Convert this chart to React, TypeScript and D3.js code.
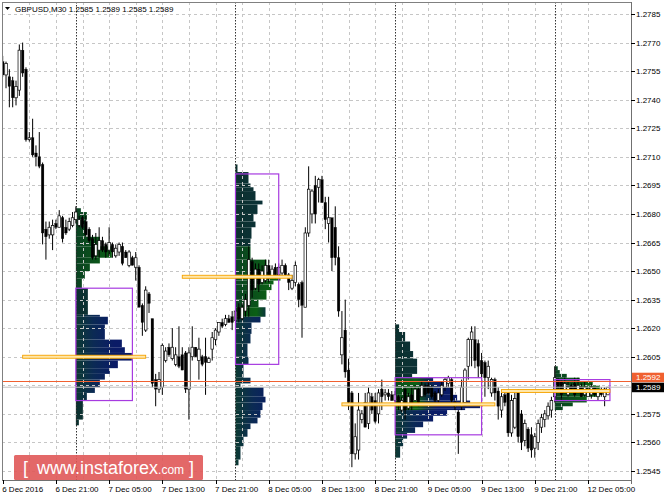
import * as d3 from "d3";

// GBPUSD M30, 6 Dec 2016 13:00 .. 12 Dec 2016 08:00
const symbol = "GBPUSD,M30";
const lastQuote = [1.2585, 1.2589, 1.2585, 1.2589];
const bid = 1.2589;
const ask = 1.2592;

// [open, high, low, close] per 30 min bar
const candles: number[][] = [
  [1.276, 1.2763, 1.2752, 1.2753], [1.2753, 1.276, 1.2746, 1.2759], [1.2752, 1.2756, 1.2736, 1.2747], [1.275, 1.2752, 1.2736, 1.2741],
  [1.2741, 1.275, 1.2737, 1.2747], [1.2745, 1.2769, 1.2742, 1.2766], [1.2766, 1.277, 1.2752, 1.2754], [1.2756, 1.2757, 1.2718, 1.2719],
  [1.2719, 1.2723, 1.2718, 1.272], [1.272, 1.273, 1.271, 1.2711], [1.2712, 1.2716, 1.2705, 1.271], [1.271, 1.2723, 1.2704, 1.2705],
  [1.2706, 1.2707, 1.2664, 1.267], [1.2672, 1.2676, 1.2656, 1.2668], [1.2669, 1.2676, 1.2667, 1.2673], [1.2669, 1.2677, 1.2661, 1.2674],
  [1.2675, 1.2677, 1.2672, 1.2673], [1.2673, 1.2682, 1.2673, 1.2679], [1.2678, 1.2679, 1.2665, 1.2667], [1.2673, 1.2677, 1.2669, 1.267],
  [1.2672, 1.2678, 1.2671, 1.2676], [1.2674, 1.2681, 1.2673, 1.2678],
  // 7 Dec
  [1.2677, 1.2684, 1.2675, 1.2681], [1.2674, 1.2679, 1.2673, 1.2677], [1.2678, 1.2679, 1.2672, 1.2673], [1.2676, 1.2679, 1.2668, 1.2669],
  [1.2672, 1.2673, 1.2665, 1.2666], [1.2667, 1.2669, 1.2656, 1.2657], [1.2658, 1.267, 1.2656, 1.2664], [1.2661, 1.2673, 1.2657, 1.2666],
  [1.2666, 1.2668, 1.266, 1.2661], [1.2664, 1.2665, 1.2657, 1.266], [1.2661, 1.2673, 1.2658, 1.2665], [1.2664, 1.2665, 1.2657, 1.266],
  [1.2658, 1.2664, 1.2657, 1.2662], [1.266, 1.2665, 1.2658, 1.2664], [1.2663, 1.2665, 1.2653, 1.2654], [1.266, 1.2661, 1.2657, 1.2657],
  [1.2653, 1.2661, 1.2652, 1.266], [1.2657, 1.2658, 1.2653, 1.2653], [1.2652, 1.266, 1.2645, 1.2657], [1.2652, 1.2653, 1.2631, 1.2631],
  [1.2632, 1.2633, 1.2616, 1.2623], [1.2619, 1.2642, 1.2618, 1.264], [1.2638, 1.2639, 1.2628, 1.2633], [1.2625, 1.2625, 1.2589, 1.2591],
  [1.2593, 1.2596, 1.2579, 1.2588], [1.2588, 1.2597, 1.2586, 1.2593], [1.2589, 1.2612, 1.2585, 1.2611], [1.2603, 1.261, 1.2602, 1.2608],
  [1.261, 1.2612, 1.2605, 1.2606], [1.2604, 1.262, 1.2603, 1.261], [1.2601, 1.261, 1.26, 1.2606], [1.2605, 1.2621, 1.2599, 1.26],
  [1.2606, 1.261, 1.2598, 1.2598], [1.2607, 1.2608, 1.2586, 1.2588], [1.2588, 1.261, 1.2572, 1.2607], [1.2605, 1.2621, 1.2603, 1.261],
  [1.261, 1.261, 1.2605, 1.2605], [1.2603, 1.2615, 1.2593, 1.2609], [1.2605, 1.2606, 1.26, 1.2601], [1.2605, 1.2615, 1.2585, 1.2602],
  [1.2602, 1.2605, 1.2602, 1.2604], [1.2609, 1.2618, 1.2603, 1.2615], [1.2614, 1.262, 1.2611, 1.2619], [1.2618, 1.2623, 1.2616, 1.2623],
  [1.2623, 1.2625, 1.262, 1.2621], [1.2622, 1.2627, 1.2621, 1.2625], [1.2625, 1.2627, 1.2623, 1.2623], [1.2626, 1.2629, 1.2619, 1.2623],
  // 8 Dec
  [1.2624, 1.2632, 1.2623, 1.2629], [1.2631, 1.2633, 1.2623, 1.2625], [1.2625, 1.2633, 1.2624, 1.2631], [1.2629, 1.2638, 1.2626, 1.2635],
  [1.2632, 1.2663, 1.2626, 1.2656], [1.2655, 1.2657, 1.2636, 1.264], [1.2641, 1.2654, 1.264, 1.2651], [1.2651, 1.2654, 1.2639, 1.2643],
  [1.2644, 1.2653, 1.2643, 1.265], [1.2645, 1.2656, 1.2644, 1.2653], [1.2653, 1.2656, 1.2644, 1.2646], [1.2647, 1.2653, 1.2646, 1.2651],
  [1.2652, 1.2654, 1.2646, 1.2648], [1.2648, 1.2654, 1.2647, 1.2652], [1.2649, 1.2656, 1.2647, 1.2653], [1.2653, 1.2654, 1.2647, 1.2648],
  [1.2648, 1.2649, 1.264, 1.2644], [1.2641, 1.2648, 1.264, 1.2645], [1.2644, 1.2655, 1.2642, 1.2653], [1.2643, 1.2644, 1.2631, 1.2635],
  [1.2644, 1.2645, 1.2615, 1.2632], [1.2631, 1.2673, 1.2631, 1.267], [1.267, 1.2705, 1.2668, 1.2693], [1.268, 1.2693, 1.2675, 1.2692],
  [1.2695, 1.27, 1.2675, 1.268], [1.2694, 1.2699, 1.2686, 1.2698], [1.2698, 1.27, 1.2686, 1.2686], [1.2686, 1.2689, 1.2672, 1.2677],
  [1.2675, 1.2689, 1.2665, 1.2678], [1.2678, 1.2678, 1.265, 1.2657], [1.2673, 1.2684, 1.2653, 1.2657], [1.2657, 1.2663, 1.2626, 1.2629],
  [1.2606, 1.2629, 1.2601, 1.2615], [1.2619, 1.2635, 1.2594, 1.2597], [1.2598, 1.2604, 1.2577, 1.2581], [1.2586, 1.2587, 1.2547, 1.2554],
  [1.2554, 1.257, 1.2551, 1.2563], [1.2556, 1.2586, 1.2551, 1.2577], [1.2572, 1.2577, 1.257, 1.2575], [1.2581, 1.2586, 1.2568, 1.2568],
  [1.257, 1.2589, 1.2567, 1.2586], [1.2584, 1.2586, 1.2575, 1.2577], [1.2582, 1.2586, 1.257, 1.2571], [1.2575, 1.2588, 1.257, 1.2586],
  [1.2588, 1.2593, 1.2577, 1.2584], [1.2585, 1.2588, 1.2582, 1.2586], [1.2586, 1.2588, 1.2582, 1.2584], [1.2585, 1.2587, 1.2582, 1.2582],
  // 9 Dec
  [1.2582, 1.2587, 1.2581, 1.2585], [1.2584, 1.2585, 1.2577, 1.258], [1.2577, 1.2584, 1.2576, 1.2582], [1.2588, 1.2589, 1.2572, 1.2577],
  [1.2578, 1.2586, 1.2577, 1.2584], [1.2585, 1.2589, 1.2577, 1.258], [1.2582, 1.259, 1.2582, 1.2588], [1.2588, 1.2589, 1.2579, 1.2581],
  [1.2584, 1.2592, 1.2584, 1.259], [1.259, 1.2591, 1.2584, 1.2585], [1.259, 1.2592, 1.2585, 1.2586], [1.2589, 1.259, 1.2583, 1.2584],
  [1.2586, 1.2587, 1.2581, 1.2582], [1.2582, 1.2588, 1.2581, 1.2586], [1.2585, 1.2592, 1.2584, 1.259], [1.2589, 1.2594, 1.2587, 1.2593],
  [1.2591, 1.2595, 1.2589, 1.2594], [1.2593, 1.2594, 1.2581, 1.2582], [1.2581, 1.2582, 1.2577, 1.2579], [1.2576, 1.2577, 1.2554, 1.2565],
  [1.2579, 1.2593, 1.2577, 1.2589], [1.2581, 1.2599, 1.2579, 1.2598], [1.26, 1.2615, 1.2593, 1.2614], [1.2614, 1.2621, 1.26, 1.2618],
  [1.2614, 1.2621, 1.2599, 1.2603], [1.2612, 1.2614, 1.2594, 1.26], [1.2603, 1.2607, 1.2589, 1.2596], [1.2602, 1.2603, 1.2584, 1.2594],
  [1.2594, 1.2603, 1.2588, 1.26], [1.2586, 1.2594, 1.2584, 1.2593], [1.2593, 1.2594, 1.2582, 1.2586], [1.2587, 1.2589, 1.2572, 1.2579],
  [1.2577, 1.2586, 1.2573, 1.2584], [1.2585, 1.2587, 1.2579, 1.2581], [1.2586, 1.2588, 1.2563, 1.2565], [1.2565, 1.2585, 1.2563, 1.2582],
  [1.2568, 1.2586, 1.2567, 1.2583], [1.2586, 1.2588, 1.256, 1.2563], [1.2575, 1.2577, 1.2556, 1.256], [1.2561, 1.2572, 1.2558, 1.257],
  [1.2567, 1.2568, 1.2555, 1.2557], [1.2564, 1.2568, 1.2552, 1.2556], [1.2557, 1.2565, 1.2552, 1.2563], [1.256, 1.2572, 1.2556, 1.257],
  [1.2568, 1.2575, 1.2565, 1.2573], [1.2572, 1.2577, 1.2568, 1.2575], [1.2574, 1.2581, 1.2572, 1.2579], [1.2577, 1.2584, 1.2573, 1.2582],
  // 12 Dec
  [1.2584, 1.26, 1.2581, 1.2594], [1.2593, 1.2594, 1.2586, 1.2589], [1.2592, 1.2593, 1.2582, 1.2585], [1.2586, 1.2594, 1.2586, 1.2591],
  [1.2585, 1.2592, 1.2584, 1.2589], [1.259, 1.2591, 1.2587, 1.2588], [1.2591, 1.2594, 1.2584, 1.2585], [1.2586, 1.2594, 1.2586, 1.259],
  [1.2589, 1.2591, 1.2584, 1.2584], [1.2585, 1.2592, 1.2584, 1.2589], [1.2584, 1.2589, 1.2584, 1.2588], [1.2585, 1.2591, 1.2583, 1.2589],
  [1.2589, 1.2589, 1.2584, 1.2585], [1.2584, 1.2588, 1.2582, 1.2587], [1.2588, 1.2589, 1.2584, 1.2585], [1.2584, 1.2589, 1.2579, 1.2588],
  lastQuote,
];

// bar index where each trading day starts
const dayStarts = [22, 70, 118, 166];

// market profile rows per day: [high, low, TPO width, colour group]
const profile7Dec: [number, number, number, string][] = [
  [1.2683, 1.2681, 5, "g"], [1.2681, 1.2677, 11, "g"], [1.2677, 1.2668, 10, "g"], [1.2668, 1.2663, 24, "g"],
  [1.2663, 1.2657, 36, "g"], [1.2657, 1.2654, 24, "g"], [1.2654, 1.265, 14, "g"], [1.265, 1.2646, 9, "g"],
  [1.2646, 1.2641, 6, "g"], [1.2641, 1.2627, 12, "t"], [1.2627, 1.2626, 24, "b"], [1.2626, 1.2622, 32, "b"],
  [1.2622, 1.2614, 29, "b"], [1.2614, 1.261, 46, "b"], [1.261, 1.2607, 49, "b"], [1.2607, 1.2603, 56, "b"],
  [1.2603, 1.2599, 42, "b"], [1.2599, 1.2596, 34, "b"], [1.2596, 1.2593, 29, "b"], [1.2593, 1.2589, 24, "b"],
  [1.2589, 1.2586, 19, "b"], [1.2586, 1.2582, 11, "b"], [1.2582, 1.2572, 7, "t"], [1.2572, 1.2569, 3, "t"],
];
const profile8Dec: [number, number, number, string][] = [
  [1.2706, 1.2702, 2, "t"], [1.2702, 1.2696, 13, "t"], [1.2696, 1.2694, 15, "t"], [1.2694, 1.2692, 18, "t"],
  [1.2692, 1.2687, 20, "t"], [1.2687, 1.2685, 27, "t"], [1.2685, 1.268, 22, "t"], [1.268, 1.2676, 18, "t"],
  [1.2676, 1.2673, 20, "t"], [1.2673, 1.2667, 16, "t"], [1.2667, 1.2663, 15, "t"], [1.2663, 1.2656, 15, "g"],
  [1.2656, 1.265, 31, "g"], [1.265, 1.2648, 38, "g"], [1.2648, 1.2645, 45, "g"], [1.2645, 1.2643, 38, "g"],
  [1.2643, 1.264, 36, "g"], [1.264, 1.2635, 31, "g"], [1.2635, 1.2631, 23, "g"], [1.2631, 1.2626, 30, "m"],
  [1.2626, 1.2623, 25, "b"], [1.2623, 1.2617, 16, "b"], [1.2617, 1.2612, 15, "b"], [1.2612, 1.2605, 12, "b"],
  [1.2605, 1.2601, 13, "b"], [1.2601, 1.2594, 8, "b"], [1.2594, 1.2591, 15, "b"], [1.2591, 1.2589, 5, "b"],
  [1.2589, 1.2584, 28, "b"], [1.2584, 1.2581, 30, "b"], [1.2581, 1.2577, 27, "b"], [1.2577, 1.2573, 25, "b"],
  [1.2573, 1.257, 22, "b"], [1.257, 1.2567, 15, "b"], [1.2567, 1.2563, 12, "b"], [1.2563, 1.2558, 8, "b"],
  [1.2558, 1.2551, 5, "b"], [1.2551, 1.2548, 3, "b"],
];
const profile9Dec: [number, number, number, string][] = [
  [1.2622, 1.2618, 4, "t"], [1.2618, 1.2613, 10, "t"], [1.2613, 1.2608, 15, "t"], [1.2608, 1.2604, 18, "t"],
  [1.2604, 1.26, 22, "t"], [1.26, 1.2596, 22, "t"], [1.2596, 1.2594, 17, "t"], [1.2594, 1.2592, 38, "m"],
  [1.2592, 1.2589, 52, "m"], [1.2589, 1.2585, 57, "m"], [1.2585, 1.2582, 62, "m"], [1.2582, 1.258, 75, "m"],
  [1.258, 1.2578, 85, "m"], [1.2578, 1.2577, 70, "m"], [1.2577, 1.2574, 52, "b"], [1.2574, 1.2571, 38, "b"],
  [1.2571, 1.2568, 28, "b"], [1.2568, 1.2565, 20, "b"], [1.2565, 1.2562, 12, "b"], [1.2562, 1.2558, 8, "b"],
  [1.2558, 1.2552, 5, "b"],
];
const profile12Dec: [number, number, number, string][] = [
  [1.26, 1.2598, 3, "g"], [1.2598, 1.2596, 5, "g"], [1.2596, 1.2594, 12, "g"], [1.2594, 1.2592, 25, "g"],
  [1.2592, 1.259, 38, "g"], [1.259, 1.2588, 45, "g"], [1.2588, 1.2586, 55, "g"], [1.2586, 1.2584, 45, "g"],
  [1.2584, 1.2581, 32, "g"], [1.2581, 1.2579, 18, "g"], [1.2579, 1.2577, 8, "g"],
];
const profiles = [profile7Dec, profile8Dec, profile9Dec, profile12Dec];

// value area boxes: [from bar, to bar, high, low]
const valueAreas = [
  [22, 39, 1.2641, 1.2582],
  [70, 83, 1.2701, 1.2601],
  [118, 144, 1.2594, 1.2564],
  [166, 182.6, 1.2593, 1.2582],
];
// point of control lines: [from bar, to bar, price]
const pocLines = [
  [6, 43, 1.2605],
  [54, 87, 1.2647],
  [102, 148, 1.258],
  [150, 182.6, 1.2587],
];

const priceGrid = [1.2785, 1.277, 1.2755, 1.274, 1.2725, 1.271, 1.2695, 1.268, 1.2665, 1.265, 1.2635, 1.262, 1.2605, 1.259, 1.2575, 1.256, 1.2545];
const priceLabels = [1.2785, 1.277, 1.2755, 1.274, 1.2725, 1.271, 1.2695, 1.268, 1.2665, 1.265, 1.2635, 1.262, 1.2605, 1.2575, 1.256, 1.2545];
const timeLabels = [
  "6 Dec 2016", "6 Dec 21:00", "7 Dec 05:00", "7 Dec 13:00", "7 Dec 21:00", "8 Dec 05:00",
  "8 Dec 13:00", "8 Dec 21:00", "9 Dec 05:00", "9 Dec 13:00", "9 Dec 21:00", "12 Dec 05:00",
];

const tpoColors: Record<string, [number, string][]> = {
  g: [[0, "#0a4222"], [0.45, "#0b5c16"], [1, "#0e7016"]],
  t: [[0, "#0b302e"], [1, "#0c3446"]],
  b: [[0, "#0c3a32"], [0.25, "#0b2a54"], [0.55, "#0a1b66"], [1, "#0a1b6a"]],
  m: [[0, "#0a4a1c"], [0.3, "#0b6014"], [0.45, "#0a3040"], [0.6, "#0a1b66"], [1, "#0a1b66"]],
};

const FONT = "'Liberation Sans', Arial, sans-serif";

export default function App() {
  const width = 664;
  const height = 498;
  const left = 2, right = 631, top = 2, bottom = 480;

  const x = d3.scaleLinear().domain([0, 176]).range([2.7, 588]);
  const y = d3.scaleLinear().domain([1.2545, 1.2785]).range([471, 14]);
  const tpo = d3.scaleLinear().domain([0, 100]).range([0, 100]);
  const fmt = d3.format(".4f");

  const gridBars = d3.range(8, candles.length, 8);
  const bodyW = 2.6;

  return (
    <svg width={width} height={height} style={{ position: "absolute", left: 0, top: 0, background: "#fff" }}>
      <defs>
        {profiles.map((_, pi) =>
          Object.keys(tpoColors).map((k) => (
            <linearGradient key={`${pi}-${k}`} id={`tpo-${pi}-${k}`} gradientUnits="userSpaceOnUse"
              x1={x(dayStarts[pi])} x2={x(dayStarts[pi]) + 70} y1={0} y2={0}>
              {tpoColors[k].map(([o, c], j) => <stop key={j} offset={o} stopColor={c} />)}
            </linearGradient>
          ))
        )}
        <clipPath id="plot"><rect x={left} y={top} width={right - left} height={bottom - top} /></clipPath>
      </defs>
      <rect x={0} y={0} width={width} height={height} fill="#fff" />

      <g clipPath="url(#plot)">
        {/* market profiles */}
        {profiles.map((rows, pi) => (
          <g key={pi}>
            {rows.map(([hi, lo, w, k], j) => (
              <rect key={j} x={x(dayStarts[pi])} y={y(hi)} width={tpo(w)} height={Math.max(1, y(lo) - y(hi))}
                fill={`url(#tpo-${pi}-${k})`} />
            ))}
          </g>
        ))}

        {/* grid */}
        {priceGrid.map((p) => (
          <line key={p} x1={left} x2={right} y1={Math.round(y(p)) + 0.5} y2={Math.round(y(p)) + 0.5}
            stroke="#c6c6c6" strokeDasharray="3,3" />
        ))}
        {gridBars.map((b) => (
          <line key={b} x1={Math.round(x(b)) + 0.5} x2={Math.round(x(b)) + 0.5} y1={top} y2={bottom}
            stroke="#c6c6c6" strokeDasharray="3,3" />
        ))}
        {dayStarts.map((b) => (
          <line key={b} x1={Math.round(x(b)) + 0.5} x2={Math.round(x(b)) + 0.5} y1={top} y2={bottom}
            stroke="#333" strokeDasharray="1.5,1.5" />
        ))}

        {/* candles */}
        {candles.map(([o, h, l, c], i) => {
          const cx = x(i);
          const up = c >= o;
          const yt = y(Math.max(o, c));
          const yb = y(Math.min(o, c));
          return (
            <g key={i}>
              <line x1={cx} x2={cx} y1={y(h)} y2={y(l)} stroke="#000" strokeWidth={1} />
              <rect x={cx - bodyW / 2} y={yt} width={bodyW} height={Math.max(0.8, yb - yt)}
                fill={up ? "#fff" : "#000"} stroke="#000" strokeWidth={up ? 0.7 : 0.3} />
            </g>
          );
        })}

        {/* value areas */}
        {valueAreas.map(([b0, b1, hi, lo], i) => (
          <rect key={i} x={x(b0)} y={y(hi)} width={x(b1) - x(b0)} height={y(lo) - y(hi)}
            fill="none" stroke="#a73be0" strokeWidth={1.2} />
        ))}

        {/* POC lines */}
        {pocLines.map(([b0, b1, p], i) => (
          <rect key={i} x={x(b0)} y={y(p) - 1.5} width={x(b1) - x(b0)} height={3}
            fill="#ffe6a8" stroke="#f5a300" strokeWidth={0.9} />
        ))}

        {/* bid / ask */}
        <line x1={left} x2={right} y1={y(ask)} y2={y(ask)} stroke="#f06030" strokeWidth={1} />
        <line x1={left} x2={right} y1={y(bid)} y2={y(bid)} stroke="#c0c0c0" strokeWidth={1} />
      </g>

      {/* frame */}
      <line x1={left + 0.5} x2={left + 0.5} y1={top} y2={bottom} stroke="#808080" />
      <line x1={left} x2={right} y1={top + 0.5} y2={top + 0.5} stroke="#808080" />
      <line x1={right + 0.5} x2={right + 0.5} y1={top} y2={bottom + 4} stroke="#707070" />
      <line x1={left} x2={right} y1={bottom + 0.5} y2={bottom + 0.5} stroke="#707070" />

      {/* price axis */}
      {priceLabels.map((p) => (
        <g key={p}>
          <line x1={right} x2={right + 4} y1={Math.round(y(p)) + 0.5} y2={Math.round(y(p)) + 0.5} stroke="#000" />
          <text x={636} y={y(p) + 3} fontFamily={FONT} fontSize={8} fill="#000">{fmt(p)}</text>
        </g>
      ))}
      <rect x={right + 1} y={y(bid) - 14.5} width={32} height={9.5} fill="#f06030" />
      <text x={636} y={y(bid) - 7} fontFamily={FONT} fontSize={8} fill="#fff">{fmt(ask)}</text>
      <rect x={right + 1} y={y(bid) - 4.5} width={32} height={9.5} fill="#000" />
      <text x={636} y={y(bid) + 3} fontFamily={FONT} fontSize={8} fill="#fff">{fmt(bid)}</text>

      {/* time axis */}
      {timeLabels.map((t, k) => (
        <g key={t}>
          <line x1={Math.round(x(k * 16)) + 0.5} x2={Math.round(x(k * 16)) + 0.5} y1={bottom} y2={bottom + 4} stroke="#000" />
          <text x={x(k * 16) - 0.5} y={492} fontFamily={FONT} fontSize={8} fill="#000">{t}</text>
        </g>
      ))}

      {/* header */}
      <path d="M5,7 L10,7 L7.5,10 Z" fill="#000" />
      <text x={15} y={12} fontFamily={FONT} fontSize={8} fill="#000">
        {`${symbol}  ${lastQuote.map(fmt).join(" ")}`}
      </text>

      {/* watermark */}
      <rect x={14} y={455} width={189} height={25} rx={1.5} fill="#e05858" opacity={0.9} />
      <g fontFamily={FONT} fill="#fff">
        <text x={23} y={474} fontSize={18}>[</text>
        <text x={37} y={474}>
          <tspan fontSize={18}>www.instaforex</tspan>
          <tspan fontSize={12}>.com</tspan>
        </text>
        <text x={189} y={474} fontSize={18}>]</text>
      </g>
    </svg>
  );
}
